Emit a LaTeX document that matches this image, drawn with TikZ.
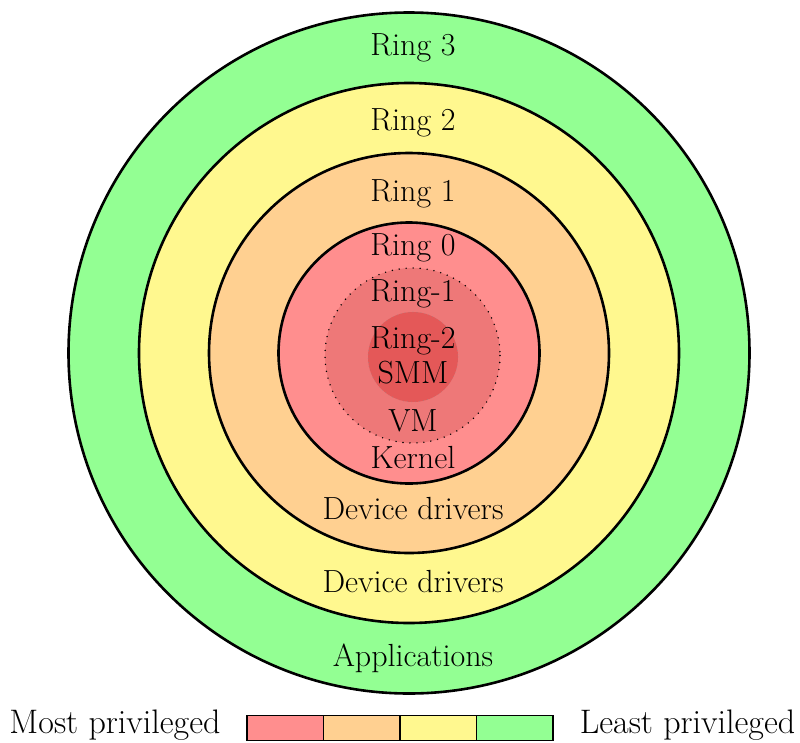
\documentclass[tikz,border=0pt]{standalone}
\definecolor{cgreen}{RGB}{147,255,147}
\definecolor{cyellow}{RGB}{255,248,143}
\definecolor{corange}{RGB}{255,208,145}
\definecolor{cred}{RGB}{255,142,142}
\definecolor{cvm}{RGB}{238,120,120}
\definecolor{csmm}{RGB}{228,88,88}
\tikzset{
  ringline/.style={draw=black, line width=2.6pt},
  lbl/.style={anchor=base, inner sep=0pt, font=\fontsize{32}{38}\selectfont},
  leglbl/.style={anchor=base, inner sep=0pt, font=\fontsize{34}{40}\selectfont},
  legbox/.style={draw=black, line width=1.6pt, minimum width=76.5pt, minimum height=25pt, inner sep=0pt, anchor=north west},
}
\begin{document}
\begin{tikzpicture}[x=1pt,y=-1pt]
\useasboundingbox (0,0) rectangle (800,742);
\coordinate (c) at (409,353);
\coordinate (ci) at (412.5,355.5);
\coordinate (cii) at (413,357);
\fill[cgreen] (c) circle[radius=340.5];
\draw[ringline] (c) circle[radius=340.5];
\fill[cyellow] (c) circle[radius=270];
\draw[ringline] (c) circle[radius=270];
\fill[corange] (c) circle[radius=200];
\draw[ringline] (c) circle[radius=200];
\fill[cred] (c) circle[radius=130.5];
\draw[ringline] (c) circle[radius=130.5];
\fill[cvm] (ci) circle[radius=87.5];
\draw[line width=1.6pt, dash pattern=on 0pt off 7pt, line cap=round] (ci) circle[radius=87.5];
\fill[csmm] (cii) circle[radius=45];
\draw[line width=0.6pt, black!45, dash pattern=on 0pt off 4pt, line cap=round] (cii) circle[radius=45];
\node[lbl] (r3) at (413,55) {Ring 3};
\node[lbl] (r2) at (413,130) {Ring 2};
\node[lbl] (r1) at (413,201.5) {Ring 1};
\node[lbl] (r0) at (413,255) {Ring 0};
\node[lbl] (rm1) at (413,301) {Ring-1};
\node[lbl] (rm2) at (413,348) {Ring-2};
\node[lbl] (smm) at (413,383.5) {SMM};
\node[lbl] (vm) at (413,431.5) {VM};
\node[lbl] (kern) at (413,468.5) {Kernel};
\node[lbl] (dd1) at (413,519.5) {Device drivers};
\node[lbl] (dd2) at (413,592.5) {Device drivers};
\node[lbl] (app) at (413,666) {Applications};
\node[legbox, fill=cred] (l0) at (246,714.5) {};
\node[legbox, fill=corange] (l1) at (322.5,714.5) {};
\node[legbox, fill=cyellow] (l2) at (399,714.5) {};
\node[legbox, fill=cgreen] (l3) at (475.5,714.5) {};
\node[leglbl] (most) at (115,733) {Most privileged};
\node[leglbl] (least) at (687.5,733) {Least privileged};
\end{tikzpicture}
\end{document}
